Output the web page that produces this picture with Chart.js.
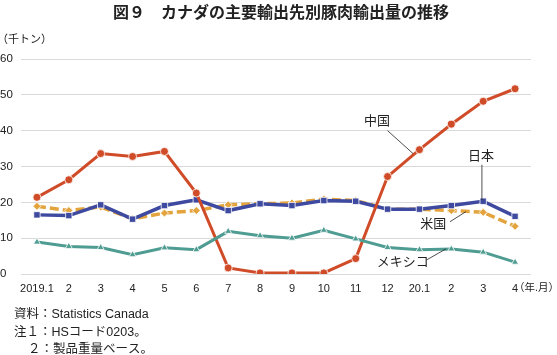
<!DOCTYPE html>
<html><head><meta charset="utf-8">
<script src="https://cdn.jsdelivr.net/npm/chart.js@4"></script>
<style>html,body{margin:0;padding:0;background:#fff;}#wrap{width:557px;height:355px;position:relative;}</style>
</head><body><div id="wrap"><canvas id="c" width="557" height="355"></canvas></div>
<script>
const categories = ['2019.1','2','3','4','5','6','7','8','9','10','11','12','20.1','2','3','4'];
const china  = [21.4,26.3,33.6,32.8,34.2,22.6,1.7,0.3,0.3,0.3,4.3,27.2,34.7,41.8,48.2,51.7];
const japan  = [16.5,16.3,19.3,15.3,19.1,20.7,17.7,19.6,19.1,20.5,20.3,18.1,18.1,19.1,20.3,16.1];
const usa    = [18.9,17.7,18.7,15.4,17.0,17.7,19.3,19.6,19.8,20.9,20.5,18.1,18.1,17.7,17.2,13.3];
const mexico = [8.9,7.7,7.4,5.4,7.3,6.8,11.9,10.7,10.0,12.2,9.8,7.4,6.8,7.0,6.1,3.3];
const yTicks = [0,10,20,30,40,50,60];
const seriesNames = ['中国','日本','米国','メキシコ'];
// callouts in data space: label centre (i,v), leader line from (i1,v1) to (i2,v2)
const callouts = [
  {text:'中国', i:10.67, v:42.5, i1:11.0, v1:40.0, i2:11.8, v2:33.6},
  {text:'日本', i:13.93, v:32.7, i1:13.96, v1:30.5, i2:13.96, v2:20.6},
  {text:'米国', i:12.43, v:13.8, i1:12.96, v1:14.6, i2:13.46, v2:17.4},
  {text:'メキシコ', i:11.48, v:3.2, i1:12.24, v1:4.0, i2:12.83, v2:7.0}
];
const JP = "'Liberation Sans','Noto Sans CJK JP',sans-serif";

const deco = {
  id:'deco',
  afterDraw(chart){
    const ctx = chart.ctx, xs = chart.scales.x, ys = chart.scales.y;
    const px = i => { const a = xs.getPixelForValue(Math.floor(i)); const b = xs.getPixelForValue(Math.floor(i)+1); return a + (b-a)*(i-Math.floor(i)); };
    ctx.save();
    ctx.fillStyle = '#222';
    ctx.font = "bold 16px 'Noto Sans CJK JP',sans-serif";
    ctx.textAlign = 'center'; ctx.textBaseline = 'middle';
    ctx.fillText('図９　カナダの主要輸出先別豚肉輸出量の推移', 281, 12);
    ctx.font = "11px " + JP;
    ctx.textAlign = 'left';
    ctx.fillText('（千トン）', -3, 40);
    ctx.font = "10.5px " + JP;
    ctx.fillText('（年.月）', 514, 288);
    ctx.font = "12.5px " + JP;
    ctx.fillText('資料：Statistics Canada', 14, 315);
    ctx.fillText('注１：HSコード0203。', 14, 333);
    ctx.fillText('２：製品重量ベース。', 28, 350);
    // callouts
    ctx.font = "13px " + JP;
    ctx.textAlign = 'center';
    ctx.strokeStyle = '#222'; ctx.lineWidth = 0.8;
    callouts.forEach(c => {
      ctx.fillText(c.text, px(c.i), ys.getPixelForValue(c.v));
      ctx.beginPath();
      ctx.moveTo(px(c.i1), ys.getPixelForValue(c.v1));
      ctx.lineTo(px(c.i2), ys.getPixelForValue(c.v2));
      ctx.stroke();
    });
    ctx.restore();
  }
};

new Chart(document.getElementById('c'), {
  type:'line',
  data:{
    labels: categories,
    datasets:[
      {label:seriesNames[3], data:mexico, borderColor:'#4e9c92', backgroundColor:'#4e9c92', borderWidth:3, pointStyle:'triangle', pointRadius:4, pointBorderColor:'#fff', pointBorderWidth:0.8, tension:0},
      {label:seriesNames[0], data:china, borderColor:'#d04b28', backgroundColor:'#d04b28', borderWidth:3, pointStyle:'circle', pointRadius:4, pointBorderColor:'#fff', pointBorderWidth:0.8, tension:0},
      {label:seriesNames[1], data:japan, borderColor:'#3e49a0', backgroundColor:'#3e49a0', borderWidth:3.5, pointStyle:'rect', pointRadius:4.5, pointBorderColor:'#fff', pointBorderWidth:0.8, tension:0},
      {label:seriesNames[2], data:usa, borderColor:'#e3a43d', backgroundColor:'#e3a43d', borderWidth:3.5, borderDash:[9,4], pointStyle:'rectRot', pointRadius:4, pointBorderColor:'#fff', pointBorderWidth:0.8, tension:0}
    ]
  },
  options:{
    responsive:false, animation:false,
    layout:{padding:{left:0,right:26,top:59,bottom:59}},
    plugins:{legend:{display:false}, tooltip:{enabled:false}},
    scales:{
      x:{
        offset:true,
        grid:{display:false, drawTicks:false},
        border:{display:false},
        ticks:{color:'#222', font:{size:11, family:JP}, padding:8, maxRotation:0, autoSkip:false},
        afterFit(s){ s.height = 22; }
      },
      y:{
        min:0, max:60,
        afterBuildTicks(s){ s.ticks = yTicks.map(v=>({value:v})); },
        grid:{color:'#d9d9d9', lineWidth:1, drawTicks:false},
        border:{display:false},
        ticks:{color:'#222', font:{size:11.5, family:JP}, padding:8, crossAlign:'far'},
        afterFit(s){ s.width = 21; }
      }
    }
  },
  plugins:[deco]
});
</script></body></html>
